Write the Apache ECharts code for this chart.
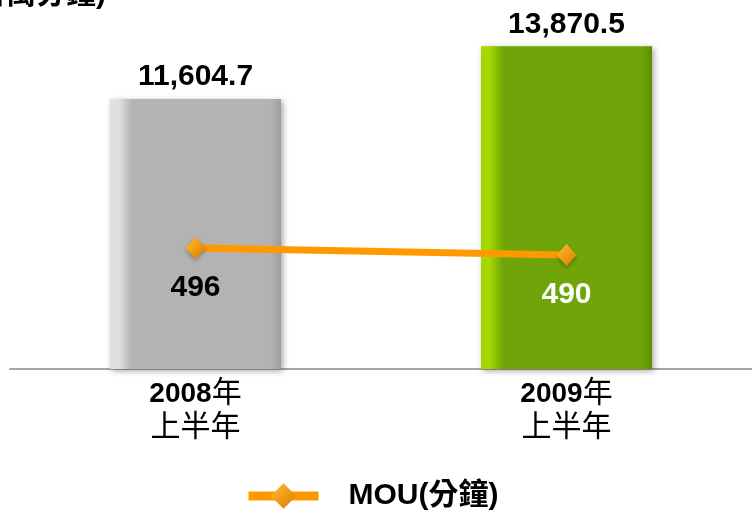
<!DOCTYPE html>
<html><head><meta charset="utf-8">
<script src="https://cdn.jsdelivr.net/npm/echarts@6/dist/echarts.min.js"></script>
<style>html,body{margin:0;padding:0;background:#fff}#c{width:752px;height:511px}</style>
</head><body><div id="c"></div>
<script>
var categories = ['2008', '2009'];
var categoryYearSuffix = '年';
var categorySecondLine = '上半年';
var barValues = [11604.7, 13870.5];
var barLabels = ['11,604.7', '13,870.5'];
var mouValues = [496, 490];
var mouName = 'MOU(分鐘)';
var unitText = '(百萬分鐘)';

var FONT = '"Liberation Sans", Arial, "Noto Sans CJK TC", sans-serif';
function grad(light, main, dark) {
  return new echarts.graphic.LinearGradient(0, 0, 1, 0, [
    {offset: 0, color: light}, {offset: 0.05, color: light},
    {offset: 0.13, color: main}, {offset: 0.94, color: main},
    {offset: 1, color: dark}
  ]);
}
var barColors = [grad('#e0e0e0', '#b3b3b3', '#9c9c9c'), grad('#a4d800', '#6fa508', '#5e8c06')];
var lineLabelColors = ['#000000', '#ffffff'];

var chart = echarts.init(document.getElementById('c'));
chart.setOption({
  animation: false,
  grid: {left: 10, right: -6, top: 20, bottom: 142},
  graphic: [{
    type: 'text', x: 106, y: 10,
    style: {text: unitText, textAlign: 'right', textVerticalAlign: 'bottom',
      font: 'bold 30px ' + FONT, fill: '#000'}
  }],
  legend: {
    left: 239, top: 476, itemWidth: 70, itemHeight: 32,
    data: [mouName],
    lineStyle: {width: 9},
    textStyle: {fontFamily: FONT, fontWeight: 'bold', fontSize: 30, color: '#000', padding: [0, 0, 0, 25]}
  },
  xAxis: {
    type: 'category', data: categories,
    axisLine: {lineStyle: {color: '#a6a6a6', width: 2}},
    axisTick: {show: false},
    axisLabel: {
      margin: 8,
      formatter: function (v) { return '{b|' + v + '}{r|' + categoryYearSuffix + '}\n{r|' + categorySecondLine + '}'; },
      rich: {
        b: {fontFamily: FONT, fontWeight: 'bold', fontSize: 28, color: '#000', lineHeight: 34},
        r: {fontFamily: FONT, fontSize: 30, color: '#000', lineHeight: 34}
      }
    }
  },
  yAxis: [
    {type: 'value', min: 0, max: 15000, show: false, splitLine: {show: false}},
    {type: 'value', min: 392, max: 692, show: false, splitLine: {show: false}}
  ],
  series: [{
    type: 'bar', name: 'bar', barWidth: 171, yAxisIndex: 0,
    data: barValues.map(function (v, i) {
      return {value: v, itemStyle: {color: barColors[i]}};
    }),
    itemStyle: {shadowBlur: 6, shadowColor: 'rgba(0,0,0,0.35)', shadowOffsetX: 2, shadowOffsetY: 2},
    label: {show: true, position: 'top', distance: 7,
      formatter: function (p) { return barLabels[p.dataIndex]; },
      fontFamily: FONT, fontWeight: 'bold', fontSize: 30, color: '#000'}
  }, {
    type: 'line', name: mouName, yAxisIndex: 1, z: 5,
    data: mouValues.map(function (v, i) {
      return {value: v, label: {color: lineLabelColors[i]}};
    }),
    symbol: 'diamond', symbolSize: [20, 22],
    lineStyle: {color: '#ff9900', width: 7},
    itemStyle: {color: new echarts.graphic.LinearGradient(0, 0, 1, 1, [
      {offset: 0, color: '#ffc030'}, {offset: 1, color: '#e07800'}]),
      borderWidth: 0, shadowBlur: 4, shadowColor: 'rgba(0,0,0,0.3)', shadowOffsetY: 2},
    label: {show: true, position: 'bottom', distance: 14,
      fontFamily: FONT, fontWeight: 'bold', fontSize: 30}
  }]
});
</script></body></html>
